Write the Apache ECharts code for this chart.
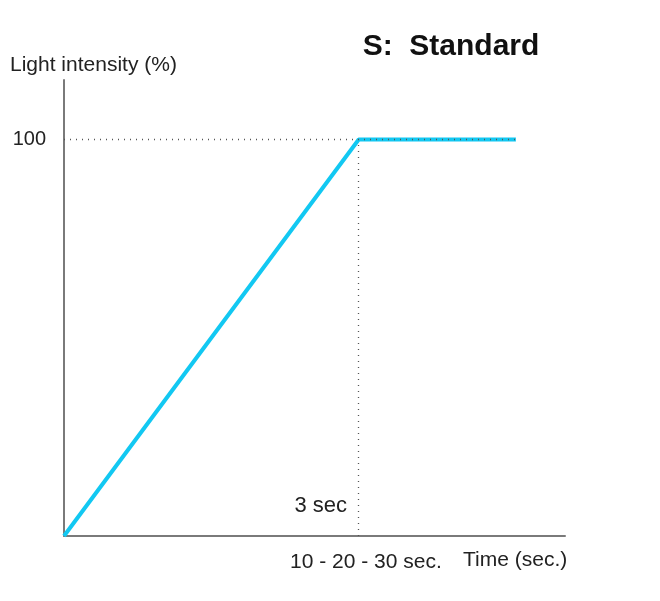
<!DOCTYPE html>
<html><head><meta charset="utf-8">
<script src="https://cdn.jsdelivr.net/npm/echarts@6/dist/echarts.min.js"></script>
<style>html,body{margin:0;padding:0;background:#fff}#c{width:660px;height:601px}</style>
</head><body><div id="c"></div>
<script>
// data
var timePoints = [0, 3, 4.6];          // arbitrary time units: ramp ends at "3 sec"
var intensity = [0, 100, 100];         // light intensity (%)
var yTicks = [100];
var xTicks = [3];
var title = 'S:  Standard';
var yName = 'Light intensity (%)';
var xName = 'Time (sec.)';
var rampLabel = '3 sec';
var xTickLabel = '10 - 20 - 30 sec.';

var font = 'Liberation Sans, Arial, sans-serif';
var chart = echarts.init(document.getElementById('c'), null, {renderer: 'canvas'});
var lineData = timePoints.map(function (t, i) { return [t, intensity[i]]; });
chart.setOption({
  animation: false,
  backgroundColor: '#fff',
  title: {
    text: title, left: 446, top: 27, textAlign: 'center',
    textStyle: {fontFamily: font, fontSize: 30, fontWeight: 'bold', color: '#111'}
  },
  grid: {left: 64, top: 80, right: 95, bottom: 65},
  xAxis: {
    type: 'value', min: 0, max: 5.1,
    axisLine: {show: true, lineStyle: {color: '#7a7a7a', width: 2}},
    axisTick: {show: false},
    splitLine: {show: false},
    axisLabel: {show: false}
  },
  yAxis: {
    type: 'value', min: 0, max: 115,
    axisLine: {show: true, lineStyle: {color: '#7a7a7a', width: 2}},
    axisTick: {show: false},
    splitLine: {show: false},
    axisLabel: {
      customValues: yTicks, margin: 18,
      fontFamily: font, fontSize: 20, color: '#222'
    }
  },
  graphic: [
    {type: 'text', x: 10, y: 65, style: {text: yName, font: '21px ' + font, fill: '#222', textVerticalAlign: 'middle'}},
    {type: 'text', x: 347, y: 506, style: {text: rampLabel, font: '22px ' + font, fill: '#222', textAlign: 'right', textVerticalAlign: 'middle'}},
    {type: 'text', x: 290, y: 562, style: {text: xTickLabel, font: '21px ' + font, fill: '#222', textVerticalAlign: 'middle'}},
    {type: 'text', x: 463, y: 560, style: {text: xName, font: '21px ' + font, fill: '#222', textVerticalAlign: 'middle'}}
  ],
  series: [{
    type: 'line',
    data: lineData,
    symbol: 'none',
    lineStyle: {color: '#12c8f2', width: 4},
    z: 3,
    markLine: {
      silent: true, symbol: 'none', label: {show: false},
      lineStyle: {color: '#555', type: [1, 5], width: 1.3},
      data: [
        [{coord: [0, yTicks[0]]}, {coord: [timePoints[2], yTicks[0]]}],
        [{coord: [xTicks[0], 0]}, {coord: [xTicks[0], yTicks[0]]}]
      ]
    }
  }]
});
</script></body></html>
